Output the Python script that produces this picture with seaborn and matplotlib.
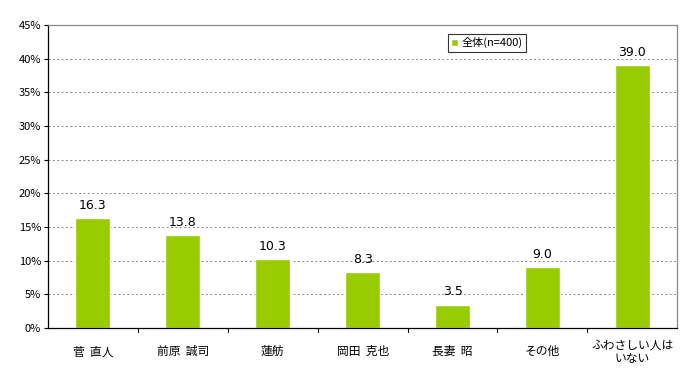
import pandas as pd
import numpy as np
import seaborn as sns
import matplotlib.pyplot as plt
from matplotlib.ticker import PercentFormatter

# data
candidates = ['菅  直人', '前原  誠司', '蓮舫', '岡田  克也', '長妻  昭', 'その他', 'ふわさしい人は\nいない']
values = [16.3, 13.8, 10.3, 8.3, 3.5, 9.0, 39.0]
series_name = '全体(n=400)'

df = pd.DataFrame({'name': candidates, 'value': values, 'series': series_name})

sns.set_style('white')
plt.rcParams['font.family'] = ['Noto Sans CJK JP', 'DejaVu Sans']
plt.rcParams['text.color'] = 'black'
plt.rcParams['xtick.color'] = 'black'
plt.rcParams['ytick.color'] = 'black'

fig = plt.figure(figsize=(6.93, 3.72), dpi=100)
ax = fig.add_axes([0.0693, 0.118, 0.908, 0.815])

sns.barplot(data=df, x='name', y='value', hue='series', palette=['#99CC00'],
            width=0.39, ax=ax, saturation=1)

for p, v in zip(ax.patches, values):
    ax.text(p.get_x() + p.get_width() / 2, v + 0.9, f'{v:.1f}',
            ha='center', va='bottom', fontsize=9, family='DejaVu Sans')

ax.set_ylim(0, 45)
ax.set_xlim(-0.5, len(candidates) - 0.5)
ax.set_yticks(np.arange(0, 46, 5))
ax.yaxis.set_major_formatter(PercentFormatter(decimals=0))
ax.tick_params(axis='y', labelsize=8, length=3, direction='out', left=True, pad=2)
ax.set_xticks(np.arange(len(candidates)))
ax.set_xticklabels(candidates, fontsize=8.5, linespacing=1.05)
ax.tick_params(axis='x', length=0, pad=17)
for lab in ax.get_xticklabels():
    lab.set_verticalalignment('center')
# small boundary ticks between categories
for b in np.arange(0.5, len(candidates) - 0.5, 1):
    ax.plot([b, b], [0, -0.6], color='black', lw=0.8, clip_on=False)

for y in np.arange(5, 45, 5):
    ax.axhline(y, color='#888888', lw=0.7, ls=(0, (2, 2.5)), zorder=0)

ax.set_xlabel('')
ax.set_ylabel('')
ax.spines['left'].set_color('black')
ax.spines['bottom'].set_color('black')
ax.spines['top'].set_color('#888888')
ax.spines['right'].set_color('#888888')
for s in ax.spines.values():
    s.set_linewidth(0.9)

leg = ax.legend(loc='upper left', bbox_to_anchor=(0.635, 0.97), fontsize=8,
                frameon=True, fancybox=False, edgecolor='black',
                handlelength=0.6, handleheight=0.6, handletextpad=0.4,
                borderpad=0.3, borderaxespad=0)
leg.get_frame().set_linewidth(0.8)

fig.savefig('out.png', dpi=100)
